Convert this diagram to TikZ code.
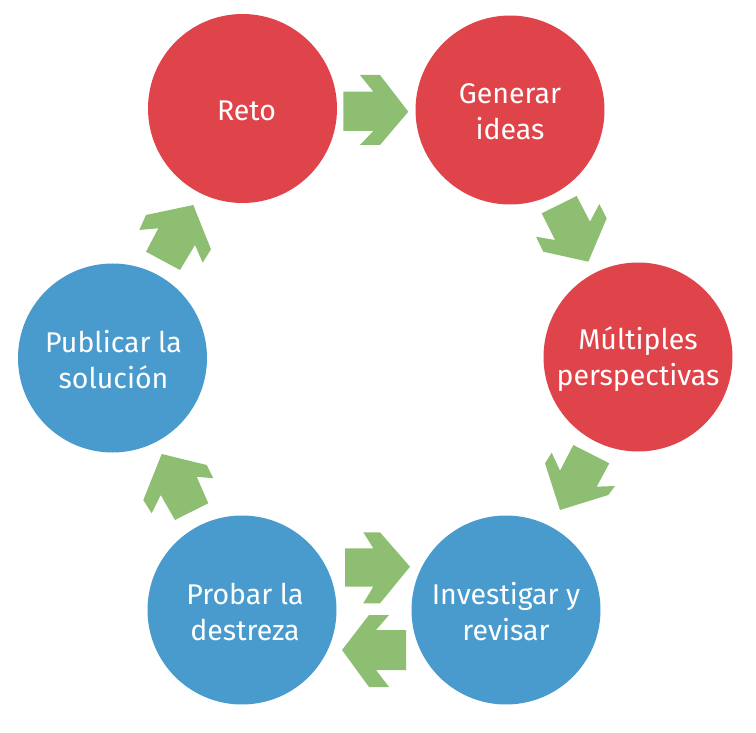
\documentclass[tikz,border=0pt]{standalone}
\usepackage{fontspec}
\setmainfont{Fira Sans}
\definecolor{cred}{RGB}{224,68,75}
\definecolor{cblue}{RGB}{73,155,206}
\definecolor{cgreen}{RGB}{141,190,114}
\begin{document}
\begin{tikzpicture}[x=1pt,y=-1pt,
 circ/.style={circle,minimum size=189pt,inner sep=0pt,text=white,align=center,font=\fontsize{28.5}{36}\selectfont},
 arr/.style={fill=cgreen}]
\useasboundingbox (0,0) rectangle (756,733);
\node[circ,fill=cred] (reto) at (242.5,108.5) {};
\node[circ,fill=cred] (gen) at (510,110) {};
\node[circ,fill=cred] (mul) at (638,357) {};
\node[circ,fill=cblue] (inv) at (506,610) {};
\node[circ,fill=cblue] (pro) at (242,610) {};
\node[circ,fill=cblue] (pub) at (112.5,358) {};
\node[circ,minimum size=0pt] (treto) at ([shift={(4,2)}]reto.center) {Reto};
\node[circ,minimum size=0pt] (tgen) at ([shift={(0,2)}]gen.center) {Generar\\ideas};
\node[circ,minimum size=0pt] (tmul) at ([shift={(0,2)}]mul.center) {Múltiples\\perspectivas};
\node[circ,minimum size=0pt] (tinv) at ([shift={(0,2)}]inv.center) {Investigar y\\revisar};
\node[circ,minimum size=0pt] (tpro) at ([shift={(3,2)}]pro.center) {Probar la\\destreza};
\node[circ,minimum size=0pt] (tpub) at ([shift={(1,2)}]pub.center) {Publicar la\\solución};
\fill[arr] (343.3,91.7)--(373.3,91.7)--(360,75)--(380,75)--(408.3,111.7)--(380,145)--(360,145)--(373.3,131)--(343.3,131)--cycle;
\fill[arr] (541.7,213.3)--(576.7,196)--(590,221.7)--(599.3,204)--(606.7,218.3)--(588.3,261.7)--(543.3,251.7)--(536,236.7)--(555,240)--cycle;
\fill[arr] (545,463.3)--(551.7,452.7)--(560,470.7)--(573.3,445)--(609.3,463.3)--(596.7,486.7)--(615,486)--(608.3,495)--(560,510)--cycle;
\fill[arr] (345,548.3)--(373.3,548.3)--(363.3,532.3)--(380,532.3)--(410,566.7)--(380,603.3)--(363.3,603.3)--(373.3,586.7)--(345,586.7)--cycle;
\fill[arr] (406,630)--(376,630)--(389,615)--(369,615)--(342,650)--(369,687)--(389,687)--(376,670)--(406,670)--cycle;
\fill[arr] (161.7,454)--(206.7,465)--(213.3,478.3)--(196.7,476.7)--(208.3,503.3)--(175,520)--(160.7,495)--(151.7,513.3)--(143.3,500)--cycle;
\fill[arr] (193.3,205)--(211,249.3)--(202.7,262.7)--(195,245)--(180,270)--(146,251.7)--(158.3,228.3)--(139.3,230)--(146,215)--cycle;
\end{tikzpicture}
\end{document}
